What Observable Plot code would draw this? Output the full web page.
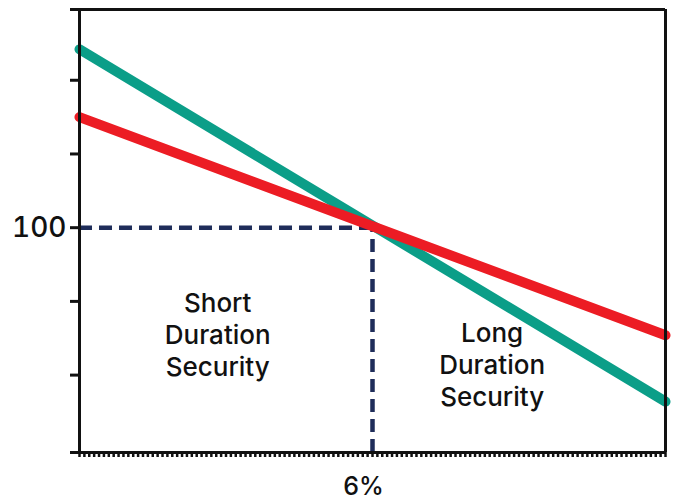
<!DOCTYPE html>
<html>
<head>
<meta charset="utf-8">
<script src="https://cdn.jsdelivr.net/npm/d3@7"></script>
<script src="https://cdn.jsdelivr.net/npm/@observablehq/plot@0.6"></script>
<style>
  html, body { margin: 0; padding: 0; background: #fff; }
  svg { font-family: Inter, "Noto Sans", sans-serif; }
</style>
</head>
<body>
<div id="chart"></div>
<script>
const rates = [0, 12];                // interest rate (%)
const longDuration = [124.2, 76.4];   // teal line: price of long duration security
const shortDuration = [115, 85.4];    // red line: price of short duration security
const parPrice = 100;
const parRate = 6;
const yMin = 69.5, yMax = 129.6;
const yTicks = [yMin, 80, 90, 100, 110, 120, yMax];
const xTicks = d3.range(0, 120.5, 1).map(d => d / 10);
const labels = [
  {x: 2.83, y: 85.6, text: "Short\nDuration\nSecurity"},
  {x: 8.45, y: 81.5, text: "Long\nDuration\nSecurity"}
];

const longData = rates.map((r, i) => ({x: r, y: longDuration[i]}));
const shortData = rates.map((r, i) => ({x: r, y: shortDuration[i]}));

const chart = Plot.plot({
  width: 673,
  height: 502,
  marginLeft: 79,
  marginRight: 8,
  marginTop: 9,
  marginBottom: 50,
  x: {domain: [0, 12]},
  y: {domain: [yMin, yMax]},
  marks: [
    Plot.ruleY([parPrice], {x1: 0, x2: parRate, stroke: "#1f2d5a", strokeWidth: 4.5, strokeDasharray: "13,7"}),
    Plot.ruleX([parRate], {y1: yMin, y2: parPrice, stroke: "#1f2d5a", strokeWidth: 4.5, strokeDasharray: "13,7"}),
    Plot.line(longData, {x: "x", y: "y", stroke: "#0b9e88", strokeWidth: 10, strokeLinecap: "round"}),
    Plot.line(shortData, {x: "x", y: "y", stroke: "#ec1c24", strokeWidth: 10, strokeLinecap: "round"}),
    Plot.text(labels, {x: "x", y: "y", text: "text", fontSize: 26, fontWeight: 500, lineHeight: 1.22, fill: "#111"}),
    Plot.ruleY([yMax], {stroke: "#111", strokeWidth: 3}),
    Plot.ruleY([yMin], {stroke: "#111", strokeWidth: 3}),
    Plot.ruleX([0], {stroke: "#111", strokeWidth: 3}),
    Plot.ruleX([12], {stroke: "#111", strokeWidth: 3}),
    Plot.axisY({ticks: yTicks, tickSize: 9, strokeWidth: 3, stroke: "#111", tickPadding: 4,
      tickFormat: d => d === 100 ? "100" : "", fontSize: 28, fontWeight: 500, fill: "#111", label: null}),
    Plot.axisX({ticks: xTicks, tickSize: 5, strokeWidth: 2.5, stroke: "#111", tickFormat: () => "", label: null}),
    Plot.text([parRate], {x: d => d, y: yMin, dx: -9, dy: 34, text: () => "6%", fontSize: 25, fontWeight: 500, fill: "#111"})
  ]
});
document.getElementById("chart").appendChild(chart);
</script>
</body>
</html>
